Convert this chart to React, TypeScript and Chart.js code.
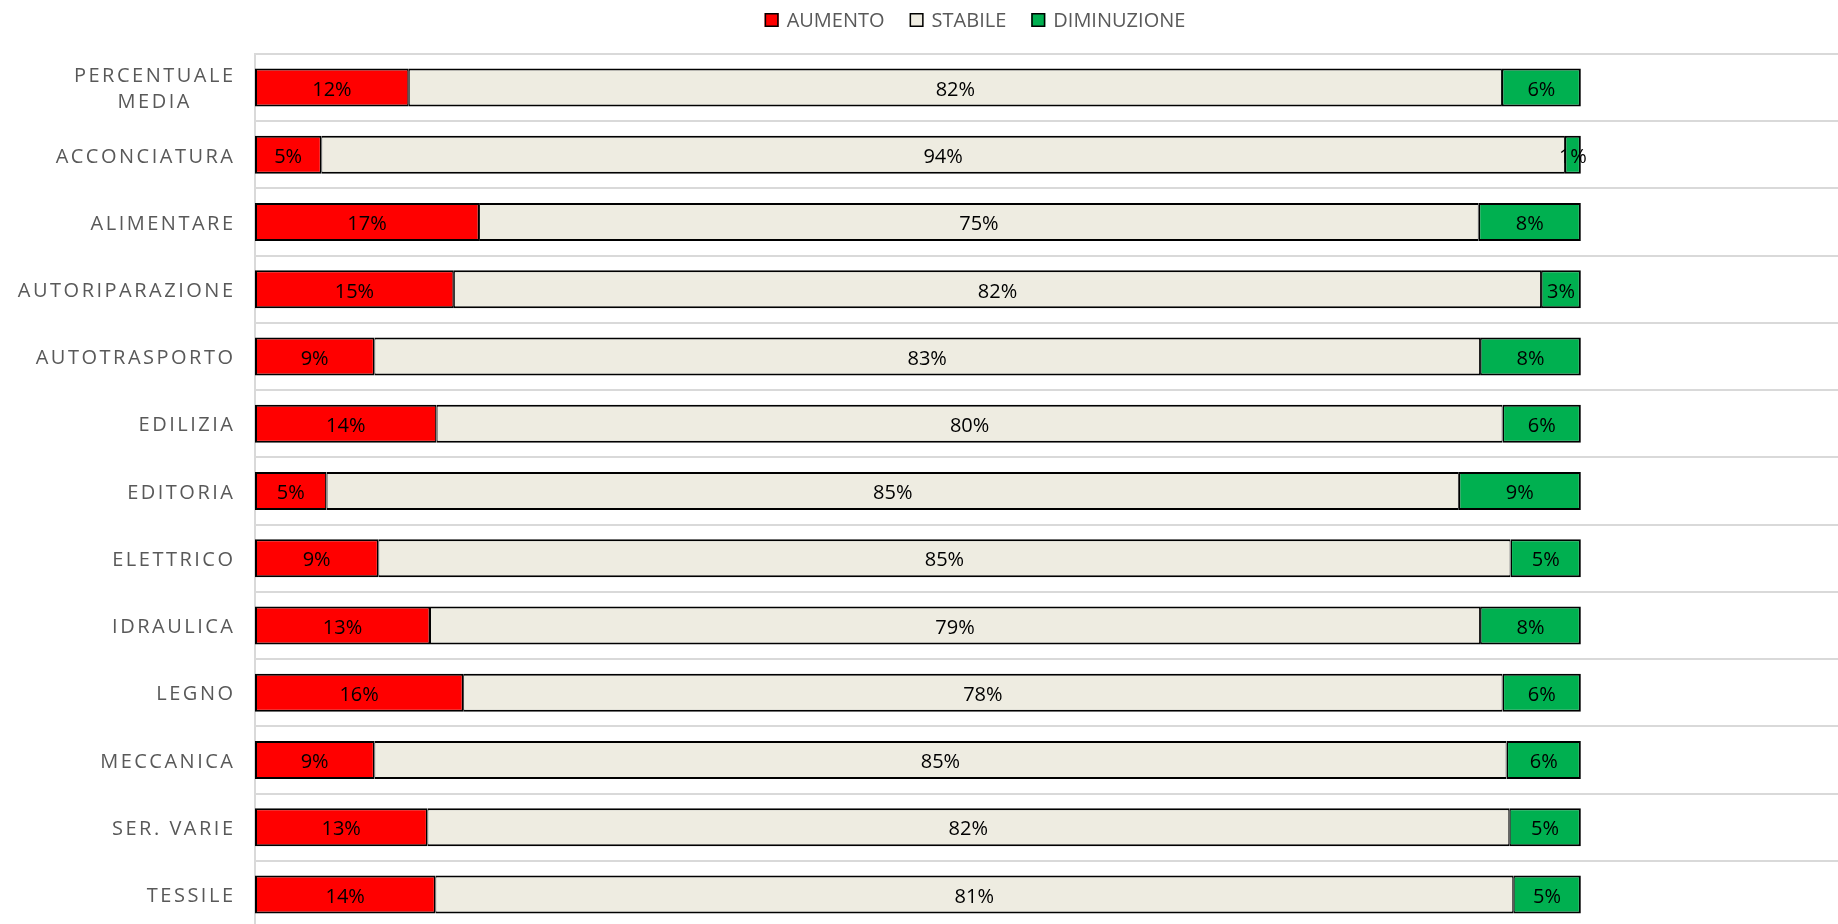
import { useEffect, useRef } from "react";
import { Chart, registerables } from "chart.js";

Chart.register(...registerables);

const categories: (string | string[])[] = [
  ["PERCENTUALE", "MEDIA"],
  "ACCONCIATURA",
  "ALIMENTARE",
  "AUTORIPARAZIONE",
  "AUTOTRASPORTO",
  "EDILIZIA",
  "EDITORIA",
  "ELETTRICO",
  "IDRAULICA",
  "LEGNO",
  "MECCANICA",
  "SER. VARIE",
  "TESSILE",
];

const aumento = [11.6, 5.0, 16.9, 15.0, 9.0, 13.7, 5.4, 9.3, 13.2, 15.7, 9.0, 13.0, 13.6];
const stabile = [82.45, 93.8, 75.4, 82.0, 83.4, 80.4, 85.4, 85.4, 79.2, 78.4, 85.4, 81.6, 81.3];
const diminuzione = [5.95, 1.2, 7.7, 3.0, 7.6, 5.9, 9.2, 5.3, 7.6, 5.9, 5.6, 5.4, 5.1];

const seriesNames = ["AUMENTO", "STABILE", "DIMINUZIONE"];
const seriesColors = ["#FF0000", "#EEECE1", "#00B050"];

const FONT = '20px "Open Sans"';
const GRAY = "#595959";

export default function App() {
  const ref = useRef<HTMLCanvasElement>(null);

  useEffect(() => {
    const canvas = ref.current;
    if (!canvas) return;

    const customPlugin = {
      id: "customDraw",
      afterDatasetsDraw(chart: any) {
        const ctx = chart.ctx as CanvasRenderingContext2D;
        ctx.save();
        ctx.font = FONT;
        ctx.fillStyle = "#000";
        ctx.textAlign = "center";
        ctx.textBaseline = "middle";
        chart.data.datasets.forEach((ds: any, i: number) => {
          const meta = chart.getDatasetMeta(i);
          meta.data.forEach((el: any, j: number) => {
            const v = ds.data[j] as number;
            const cx = (el.x + el.base) / 2;
            ctx.fillText(Math.round(v) + "%", cx, el.y + 2.5);
          });
        });
        ctx.restore();
      },
      afterDraw(chart: any) {
        const ctx = chart.ctx as CanvasRenderingContext2D;
        const yScale = chart.scales.y;
        const ls = 2.5;
        ctx.save();
        // category labels
        ctx.font = FONT;
        ctx.fillStyle = GRAY;
        ctx.textBaseline = "middle";
        ctx.textAlign = "left";
        (ctx as any).letterSpacing = ls + "px";
        const right = chart.chartArea.left - 22;
        categories.forEach((c, i) => {
          const lines = Array.isArray(c) ? c : [c];
          const cy = yScale.getPixelForValue(i) + 2;
          const widths = lines.map((l) => ctx.measureText(l).width - ls);
          const maxW = Math.max(...widths);
          const lh = 26;
          lines.forEach((l, k) => {
            const ly = cy + (k - (lines.length - 1) / 2) * lh;
            const x = right - maxW + (maxW - widths[k]) / 2;
            ctx.fillText(l, x, ly);
          });
        });
        // legend
        (ctx as any).letterSpacing = "0px";
        ctx.font = FONT;
        const box = 14;
        const gap = 8;
        const spacing = 25;
        const widths = seriesNames.map((n) => box + gap + ctx.measureText(n).width);
        const total = widths.reduce((a, b) => a + b, 0) + spacing * (seriesNames.length - 1);
        let x = 975 - total / 2;
        const ly = 20;
        seriesNames.forEach((n, i) => {
          ctx.fillStyle = seriesColors[i];
          ctx.fillRect(x, ly - box / 2, box, box);
          ctx.strokeStyle = "#000";
          ctx.lineWidth = 1.5;
          ctx.strokeRect(x + 0.75, ly - box / 2 + 0.75, box - 1.5, box - 1.5);
          ctx.fillStyle = GRAY;
          ctx.textAlign = "left";
          ctx.textBaseline = "middle";
          ctx.fillText(n, x + box + gap, ly + 1.5);
          x += widths[i] + spacing;
        });
        ctx.restore();
      },
    };

    const mk = (idx: number, data: number[], bw: any) => ({
      label: seriesNames[idx],
      data,
      backgroundColor: seriesColors[idx],
      borderColor: "#000",
      borderWidth: bw,
      borderSkipped: false,
      barPercentage: 0.565,
      categoryPercentage: 1,
    });

    const chart = new Chart(canvas, {
      type: "bar",
      data: {
        labels: categories as any,
        datasets: [
          mk(0, aumento, { top: 2, bottom: 2, left: 2, right: 1.5 }),
          mk(1, stabile, { top: 2, bottom: 2, left: 1, right: 1 }),
          mk(2, diminuzione, { top: 2, bottom: 2, left: 1.5, right: 2 }),
        ] as any,
      },
      options: {
        indexAxis: "y",
        responsive: false,
        animation: false,
        layout: { padding: { top: 54, left: 0, right: 0, bottom: 0 } },
        plugins: {
          legend: { display: false },
          tooltip: { enabled: false },
        },
        scales: {
          x: { stacked: true, min: 0, max: 120, display: false },
          y: {
            stacked: true,
            grid: { offset: true, color: "#D9D9D9", lineWidth: 2, drawTicks: false },
            border: { display: true, color: "#D9D9D9", width: 2 },
            ticks: { display: false },
            afterFit(s: any) {
              s.width = 255;
            },
          },
        },
      } as any,
      plugins: [customPlugin],
    });

    return () => chart.destroy();
  }, []);

  return (
    <div
      style={{
        position: "fixed",
        left: 0,
        top: 0,
        width: 1838,
        height: 924,
        overflow: "hidden",
        background: "#fff",
      }}
    >
      <canvas ref={ref} width={1846} height={928} style={{ display: "block" }} />
    </div>
  );
}
